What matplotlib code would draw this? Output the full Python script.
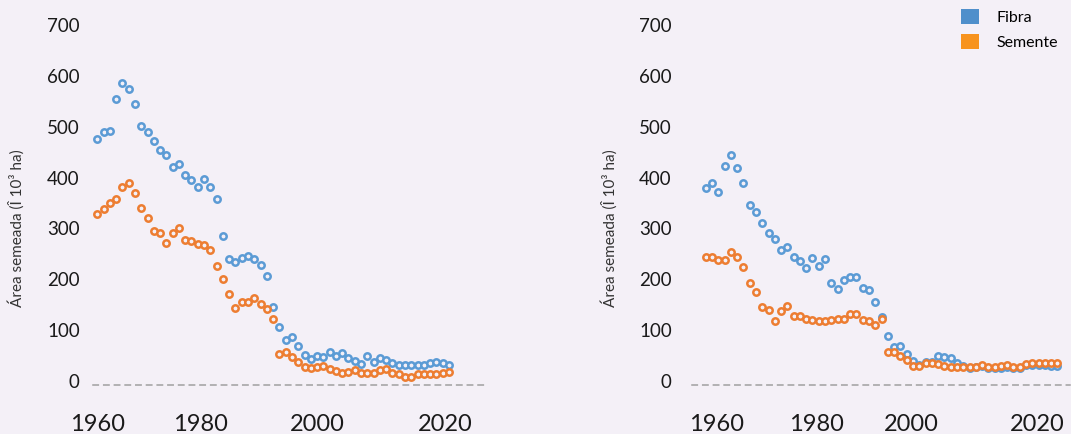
import matplotlib
matplotlib.use("Agg")
import matplotlib.pyplot as plt
from matplotlib.patches import Patch

plt.rcParams["font.family"] = ["Lato", "DejaVu Sans"]

# Sown area (10^3 ha), one point per year
years = list(range(1961, 2018))

fibra_left = [475, 490, 492, 554, 585, 574, 545, 502, 490, 471,
              454, 444, 421, 427, 405, 395, 381, 398, 381, 357,
              285, 240, 233, 241, 246, 240, 228, 206, 146, 106,
              81, 86, 69, 51, 44, 49, 48, 56, 50, 54,
              46, 40, 33, 49, 38, 45, 41, 36, 31, 31,
              31, 31, 31, 35, 37, 35, 31]
semente_left = [328, 338, 349, 357, 382, 390, 370, 341, 320, 295,
                290, 271, 290, 301, 278, 276, 269, 267, 258, 226,
                200, 171, 143, 155, 155, 164, 151, 141, 122, 53,
                57, 48, 38, 28, 25, 28, 29, 23, 20, 15,
                18, 22, 15, 16, 16, 22, 23, 15, 13, 7,
                7, 14, 14, 14, 14, 16, 18]

fibra_right = [380, 389, 372, 423, 444, 419, 390, 345, 332, 310,
               290, 280, 258, 263, 243, 235, 223, 242, 226, 240,
               193, 180, 199, 204, 205, 183, 178, 155, 126, 88,
               66, 69, 52, 40, 31, 37, 38, 50, 48, 45,
               36, 29, 25, 28, 29, 25, 25, 25, 28, 25,
               25, 31, 31, 31, 31, 29, 29]
semente_right = [244, 244, 237, 237, 254, 244, 225, 192, 174, 145,
                 140, 118, 138, 148, 128, 128, 122, 120, 117, 117,
                 120, 122, 122, 132, 132, 120, 118, 110, 122, 56,
                 56, 49, 41, 30, 30, 35, 36, 33, 30, 28,
                 28, 28, 27, 28, 31, 28, 28, 30, 31, 28,
                 28, 33, 35, 35, 35, 36, 36]

y_ticks = [0, 100, 200, 300, 400, 500, 600, 700]
x_tick_labels = ["1960", "1980", "2000", "2020"]
series_names = ["Fibra", "Semente"]

BG = "#F4F0F7"
BLUE = "#5B9BD5"
ORANGE = "#ED7D31"
LEG_BLUE = "#4F8FCB"
LEG_ORANGE = "#F7931E"
TEXT = "#1A1A1A"

W, H = 1071, 434
fig = plt.figure(figsize=(W / 100, H / 100), dpi=100, facecolor=BG)

panels = [
    dict(rect=[93 / W, 49 / H, 394 / W, 370.2 / H], xlim=(1960.32, 2023.06),
         xt=[1961.0, 1977.4, 1996.0, 2016.4], fib=fibra_left, sem=semente_left,
         ypad=9.5, ylabel_x=16),
    dict(rect=[692 / W, 49 / H, 378 / W, 370.2 / H], xlim=(1958.82, 2019.0),
         xt=[1962.8, 1978.7, 1993.7, 2013.8], fib=fibra_right, sem=semente_right,
         ypad=14.5, ylabel_x=609),
]

for p in panels:
    ax = fig.add_axes(p["rect"])
    ax.set_facecolor(BG)
    ax.plot(years, p["fib"], ls="none", marker="o", ms=4.6, mew=1.8,
            mfc=BG, mec=BLUE, zorder=3)
    ax.plot(years, p["sem"], ls="none", marker="o", ms=4.6, mew=1.8,
            mfc=BG, mec=ORANGE, zorder=4)
    ax.set_xlim(*p["xlim"])
    ax.set_ylim(-8, 720)
    for side in ("top", "right", "left"):
        ax.spines[side].set_visible(False)
    ax.spines["bottom"].set_color("#A0A0A0")
    ax.spines["bottom"].set_linewidth(1.1)
    ax.spines["bottom"].set_linestyle((0, (3.5, 3.5)))
    ax.set_yticks(y_ticks)
    ax.set_yticklabels([str(v) for v in y_ticks], fontsize=13.5, color=TEXT)
    ax.set_xticks(p["xt"])
    ax.set_xticklabels(x_tick_labels, fontsize=17, color=TEXT)
    ax.tick_params(axis="y", length=0, pad=p["ypad"])
    ax.tick_params(axis="x", length=0, pad=21)
    fig.text(p["ylabel_x"] / W, 1 - 228 / H, "Área semeada (Î 10³ ha)",
             rotation=90, ha="center", va="center", fontsize=11, color="#333333")

handles = [Patch(facecolor=LEG_BLUE, edgecolor="none"),
           Patch(facecolor=LEG_ORANGE, edgecolor="none")]
fig.legend(handles, series_names, loc="upper left",
           bbox_to_anchor=(961 / W, 1 - 9 / H), frameon=False,
           prop={"size": 11.5}, handlelength=1.1, handleheight=1.1,
           handletextpad=1.1, labelspacing=0.55, borderpad=0,
           borderaxespad=0)

fig.savefig("out.png", dpi=100, facecolor=BG)
